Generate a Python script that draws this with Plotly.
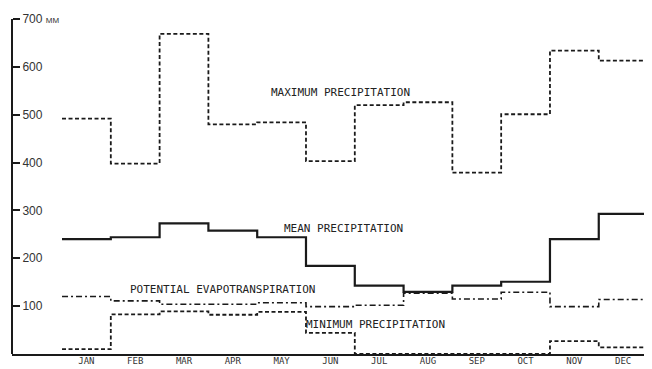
import plotly.graph_objects as go

months = ["JAN", "FEB", "MAR", "APR", "MAY", "JUN", "JUL", "AUG", "SEP", "OCT", "NOV", "DEC"]
max_precip = [492, 398, 669, 480, 484, 403, 520, 526, 379, 501, 634, 613]
mean_precip = [240, 244, 273, 258, 244, 184, 143, 130, 143, 151, 240, 293]
pet = [120, 111, 104, 104, 107, 99, 102, 127, 115, 129, 99, 114]
min_precip = [10, 83, 89, 82, 88, 44, 0, 0, 0, 0, 27, 14]

y_ticks = [100, 200, 300, 400, 500, 600, 700]
y_ticktext = ["100", "200", "300", "400", "500", "600", "700 <span style='font-size:8px'>MM</span>"]

ink = "#1a1a1a"
edges = list(range(13))

def step(vals):
    return vals + [vals[-1]]

fig = go.Figure()
series = [
    (max_precip, dict(color=ink, width=1.8, dash="4px,2.5px")),
    (mean_precip, dict(color=ink, width=2.2)),
    (pet, dict(color=ink, width=1.6, dash="6px,3px,2px,3px")),
    (min_precip, dict(color=ink, width=1.8, dash="4px,2.5px")),
]
for vals, ln in series:
    fig.add_trace(go.Scatter(x=edges, y=step(vals), mode="lines", line_shape="hv",
                             line=ln, showlegend=False, hoverinfo="skip", cliponaxis=False))

lab_font = dict(family="DejaVu Sans Mono", size=11, color="#222")
labels = [
    ("MAXIMUM PRECIPITATION", 4.24, 547),
    ("MEAN PRECIPITATION", 4.51, 263),
    ("POTENTIAL EVAPOTRANSPIRATION", 1.35, 135),
    ("MINIMUM PRECIPITATION", 4.96, 62),
]
for txt, x, y in labels:
    fig.add_annotation(x=x, y=y, text=txt, showarrow=False, xanchor="left",
                       yanchor="middle", font=lab_font)

fig.update_layout(
    width=652, height=369,
    margin=dict(l=4, r=10, t=8, b=23),
    paper_bgcolor="white", plot_bgcolor="white",
    xaxis=dict(range=[-1.025, 12.05], tickvals=[i + 0.5 for i in range(12)],
               ticktext=months, showgrid=False, zeroline=False,
               showline=True, linewidth=2, linecolor=ink, ticks="", ticklen=0,
               ticklabelstandoff=-3,
               tickfont=dict(family="DejaVu Sans Mono", size=9, color="#333")),
    yaxis=dict(range=[0, 700], tickvals=y_ticks, ticktext=y_ticktext,
               side="right", anchor="free", position=0,
               showgrid=False, zeroline=False, showline=True, linewidth=2,
               linecolor=ink, ticks="outside", ticklen=7, tickwidth=2, tickcolor=ink,
               tickfont=dict(family="Liberation Sans", size=12, color="#333")),
)

fig.write_html("out.html")
